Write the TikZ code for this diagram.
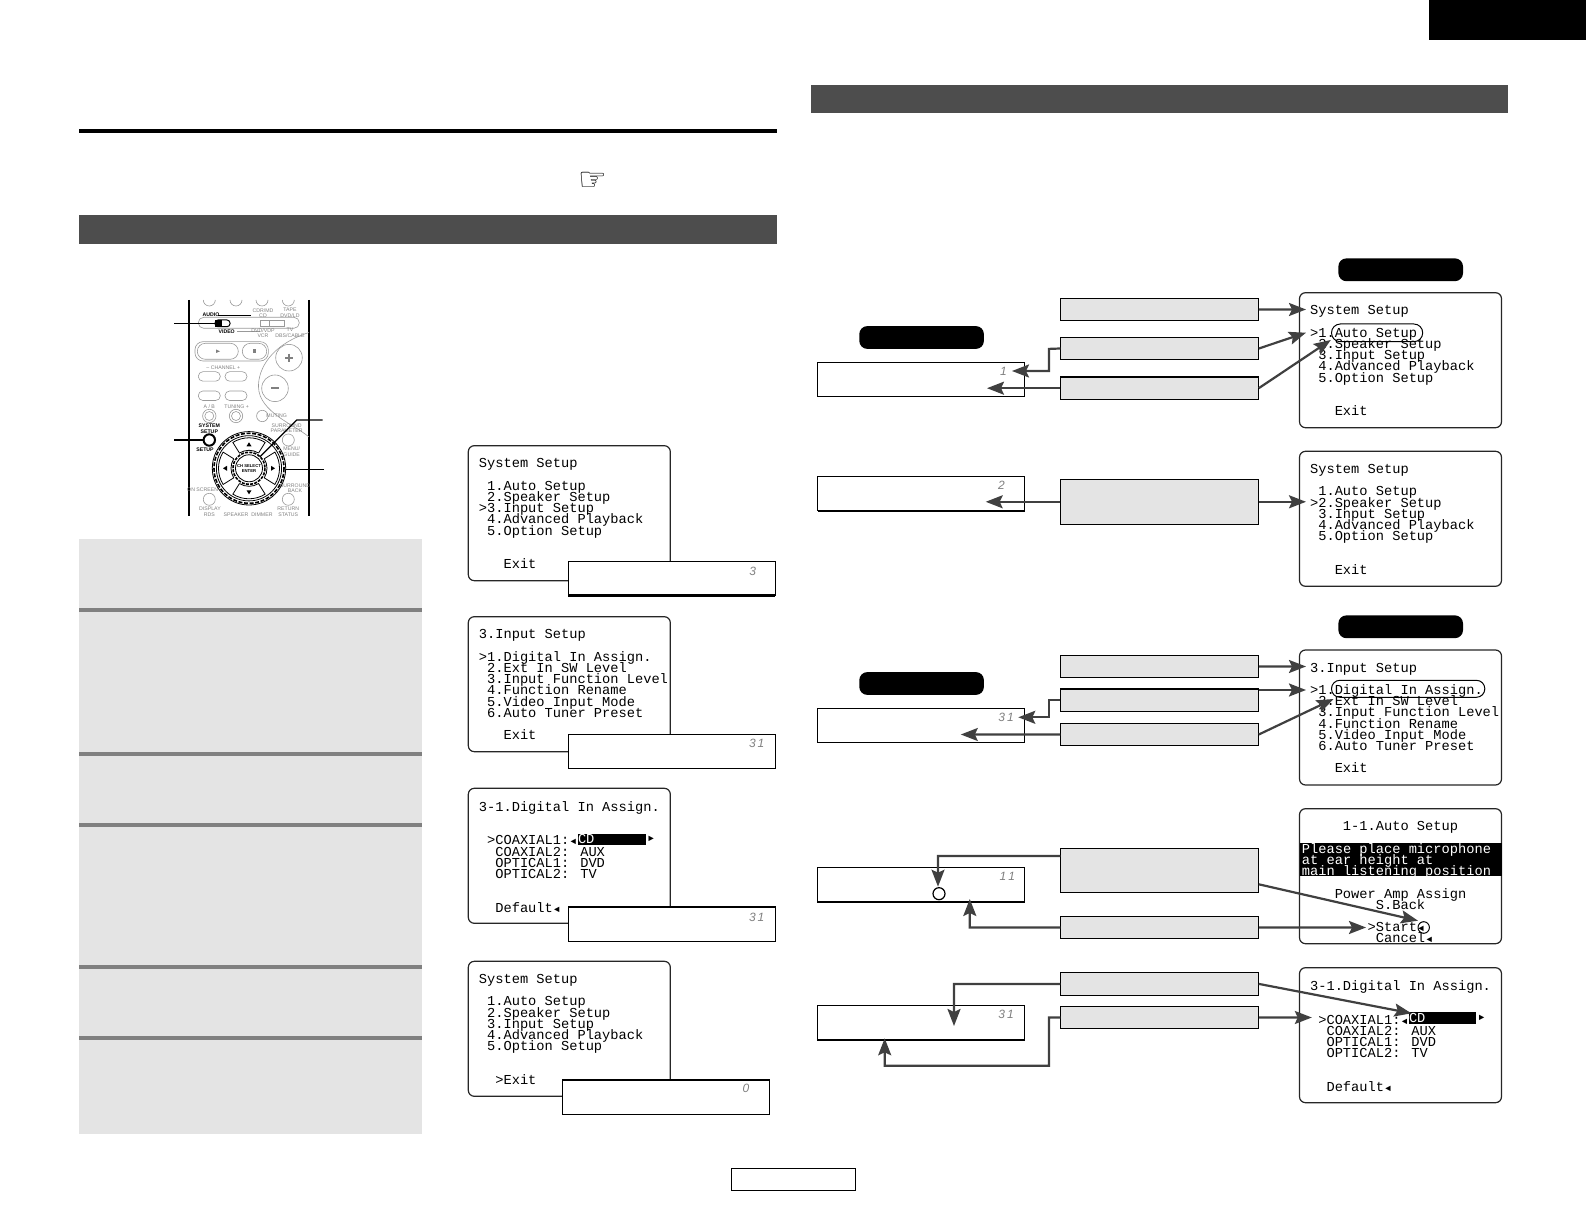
\documentclass[tikz,border=0pt]{standalone}
\usepackage{fontspec}
\setsansfont{Liberation Sans}
\newfontfamily\osdface{Liberation Mono}
\newfontfamily\handface{DejaVu Sans}
\usetikzlibrary{calc,arrows.meta}
\definecolor{barGray}{HTML}{4D4D4D}
\definecolor{panelGray}{HTML}{E4E4E4}
\definecolor{sepGray}{HTML}{808080}
\definecolor{arrowGray}{HTML}{404040}
\def\osdfont{\osdface\fontsize{6.85}{5.6}\selectfont\lineskiplimit=-6pt\relax}
\def\remfont{\sffamily\fontsize{2.6}{2.8}\selectfont\lineskiplimit=-2pt\relax}
\def\gap{\phantom{0}}
\def\trileft{\makebox[4.11pt]{\fontsize{4.6}{5.6}\selectfont◄}}
\def\triright{\makebox[4.11pt]{\fontsize{4.6}{5.6}\selectfont►}}
\tikzset{
	screenbox/.style={draw=black!85,fill=white,line width=0.6pt,rounded corners=3pt,minimum width=101pt,minimum height=67.5pt,inner sep=0pt,outer sep=0pt,anchor=north west},
	osdtext/.style={font=\osdfont,align=left,inner sep=0pt,outer sep=0pt,anchor=north west},
	osdword/.style={font=\osdfont,inner sep=0pt,outer sep=0pt,anchor=west},
	keybox/.style={draw=black,fill=panelGray,line width=0.6pt,minimum width=99.2pt,inner sep=0pt,outer sep=0pt,anchor=north west},
	lcdbox/.style={draw=black,fill=white,line width=0.6pt,minimum width=103.5pt,minimum height=17.3pt,inner sep=0pt,outer sep=0pt,anchor=north west},
	lcddigit/.style={font=\sffamily\itshape\fontsize{6}{6}\selectfont,text=black!50,inner sep=0pt},
	modepill/.style={fill=black,rounded corners=4pt,minimum width=62.3pt,minimum height=11.4pt,inner sep=0pt,anchor=north west},
	flow/.style={draw=arrowGray,line width=1.1pt,-{Stealth[length=8.5pt,width=6.5pt,inset=1.5pt]}},
	remline/.style={draw=black!40,line width=0.3pt},
	remtext/.style={font=\remfont,text=black!50,inner sep=0pt,align=center},
	remdark/.style={font=\remfont\bfseries,text=black,inner sep=0pt,align=center}
}
\def\sysmenu#1#2#3#4{System Setup\\\gap\\#11.Auto Setup\\#22.Speaker Setup\\#33.Input Setup\\\gap4.Advanced Playback\\\gap5.Option Setup\\\gap\\\gap\\#4Exit}
\def\osdscreen#1(#2,#3)#4{\node[screenbox] (scr#1) at (#2,#3) {};
		\node[osdtext] (txt#1) at ($(#2,#3)+(10.6,13)$) {#4};}
\begin{document}
\begin{tikzpicture}[x=0.5pt,y=-0.5pt]
		\useasboundingbox (0,0) rectangle (1586,1224);
		%%%%% PAGE FURNITURE %%%%%
		\fill[black] (1429,0) rectangle (1586,40);
		\fill[black] (79,129) rectangle (777,133);
		\fill[barGray] (79,215) rectangle (777,244);
		\fill[barGray] (811,85) rectangle (1508,113);
		\node[font=\handface\fontsize{16}{16}\selectfont,inner sep=0pt] (hand) at (593,181) {☞};
		\draw[line width=0.6pt] (731.3,1168.3) rectangle (855.7,1190.7);
		
		%%%%% LEFT PANEL %%%%%
		\fill[panelGray] (79,539) rectangle (422,1133.7);
		\foreach \y in {608,752,823,965,1036}
			\fill[sepGray] (79,\y) rectangle (422,\y+4);
		
		%%%%% REMOTE %%%%%
		\draw[line width=0.7pt] (189,300) -- (189,516);
		\draw[line width=0.7pt] (309,300) -- (309,516);
		\foreach \x in {209.3,236,262,288.3}
			\draw[remline] (\x-6,300) arc (180:0:6);
		\draw[remline,rounded corners=2.7pt] (198.3,317.3) rectangle (299.3,328.3);
		\draw[remline] (260.7,320) rectangle (284,326.7);
		\draw[remline] (260.7,320) rectangle (269,326.7);
		\draw[line width=0.5pt,rounded corners=1.5pt] (215,320) rectangle (230,326.7);
		\fill (215,320) rectangle (222,326.7);
		\node[remdark] (audio) at (211,315) {AUDIO};
		\draw[line width=0.4pt] (218.3,315) -- (251,315);
		\node[remdark] (video) at (226.7,331.7) {VIDEO};
		\draw[remline] (237,331.7) -- (260,331.7);
		\node[remtext] (cdr) at (263,313) {CDR/MD\\CD};
		\node[remtext] (tape) at (290,313) {TAPE\\DVD/LD};
		\node[remtext] (vdp) at (263,333) {DVD/VDP\\VCR};
		\node[remtext] (tv) at (290,333) {TV\\DBS/CABLE};
		\draw[remline,rounded corners=4pt] (195,341.7) rectangle (268.3,361);
		\draw[remline,rounded corners=4pt] (197.3,343.3) rectangle (238.3,359.3);
		\draw[remline,rounded corners=4pt] (242.3,343.3) rectangle (266.7,359.3);
		\fill[black!50] (216,349.5) -- (220,351.3) -- (216,353) -- cycle;
		\fill[black!50] (252.5,349.5) rectangle (256,353);
		\draw[remline] (309,332.5) .. controls (270,345) and (258,370) .. (258.5,387) .. controls (259,412) and (295,425) .. (309,437);
		\draw[remline] (289,357.7) circle (13.3);
		\draw[remline] (275,388.3) circle (13.3);
		\draw[black!50,line width=1pt] (285,357.7) -- (293,357.7) (289,353.7) -- (289,361.7);
		\draw[black!50,line width=1pt] (271,388.3) -- (279,388.3);
		\node[remtext] (chan) at (223.3,367.3) {-- CHANNEL +};
		\foreach \y in {371.7,391}
			\foreach \x in {198.3,225}
				\draw[remline,rounded corners=2.3pt] (\x,\y) rectangle (\x+22,\y+9.5);
		\node[remtext] (ab) at (209.3,406.7) {A / B};
		\node[remtext] (tuning) at (236.7,406.7) {TUNING +};
		\foreach \x in {209.3,236}{
			\draw[remline] (\x,416) circle (6.7);
			\draw[remline] (\x,416) circle (4.5);
		}
		\draw[remline] (262.3,416) circle (5.7);
		\node[remtext] (muting) at (276.7,416) {MUTING};
		\node[remdark] (sysup) at (209.3,429) {SYSTEM\\SETUP};
		\node[remdark] (setup) at (205,449.3) {SETUP};
		\draw[line width=1pt,fill=white] (209.3,440) circle (5.7);
		\draw[remline] (288.3,440) circle (6);
		\node[remtext] (surr) at (286.7,428) {SURROUND\\PARAMETER};
		\node[remtext] (menu) at (291.7,451.7) {MENU/\\GUIDE};
		\draw[remline] (209.3,499.3) circle (6);
		\draw[remline] (288.3,499.3) circle (6);
		\node[remtext] (onscr) at (202.7,490) {ON SCREEN};
		\node[remtext] (disp) at (210,508.3) {DISPLAY};
		\node[remtext] (sback) at (295,488.3) {SURROUND\\BACK};
		\node[remtext] (ret) at (288.3,508.3) {RETURN};
		\node[remtext] (rowa) at (209.3,515) {RDS};
		\node[remtext] (rowb) at (236,515) {SPEAKER};
		\node[remtext] (rowc) at (262,515) {DIMMER};
		\node[remtext] (rowd) at (288.3,515) {STATUS};
		% wheel
		\draw[line width=0.4pt] (249,468.3) circle (36.7);
		\draw[line width=0.8pt,dashed,dash pattern=on 2pt off 0.8pt] (249,468.3) circle (35);
		\draw[line width=0.4pt] (249,468.3) circle (32.6);
		\foreach \a in {0,90,180,270}{
			\draw[line width=0.4pt,shift={(249,468.3)},rotate=\a] (32:18) -- (32:30.5) arc (32:-32:30.5) -- (-32:18) arc (-32:32:18);
			\fill[shift={(249,468.3)},rotate=\a] (22,-2.5) -- (26,0) -- (22,2.5) -- cycle;
		}
		\draw[line width=0.8pt,dashed,dash pattern=on 1.5pt off 0.6pt] (249,468.3) circle (16);
		\draw[line width=0.4pt] (249,468.3) circle (13.5);
		\node[remdark,font=\remfont\bfseries\fontsize{2.1}{2.4}\selectfont] (enter) at (249,468.3) {CH SELECT\\ENTER};
		\draw[line width=0.4pt] (174.3,323) -- (215,323);
		\draw[line width=0.8pt] (174,440) -- (203,440);
		\draw[line width=0.6pt] (322.7,420) -- (296.7,420) -- (260,456.7);
		\draw[line width=0.4pt] (324,469) -- (285.7,469);
		
		%%%%% LEFT SCREENS %%%%%
		\osdscreen{One}(468.3,445.7){\sysmenu{\gap}{\gap}{>}{\gap\gap\gap}}
		\node[lcdbox] (lcdOne) at (568.3,561.3) {};
		\draw[line width=1.4pt] (lcdOne.south west) -- (lcdOne.south east);
		\node[lcddigit] (digOne) at (752.7,571.7) {3};
		\osdscreen{Two}(468.3,616.7){3.Input Setup\\\gap\\>1.Digital In Assign.\\\gap2.Ext In SW Level\\\gap3.Input Function Level\\\gap4.Function Rename\\\gap5.Video Input Mode\\\gap6.Auto Tuner Preset\\\gap\\\gap\gap\gap Exit}
		\node[lcdbox] (lcdTwo) at (568.3,734.3) {};
		\node[lcddigit] (digTwo) at (756.7,743) {3\,1};
		\osdscreen{Three}(468.3,788.3){3-1.Digital In Assign.\\\gap\\\gap\\\gap>COAXIAL1:\trileft\\\gap\gap COAXIAL2: AUX\\\gap\gap OPTICAL1: DVD\\\gap\gap OPTICAL2: TV\\\gap\\\gap\\\gap\gap Default\trileft}
		\fill[black] (578,834) rectangle (645.7,844.7);
		\node[osdword,text=white] (cdThree) at (578,839.3) {CD};
		\node[osdword] (nextThree) at (647,839.3) {\triright};
		\node[lcdbox] (lcdThree) at (568.3,907) {};
		\node[lcddigit] (digThree) at (756.7,917.7) {3\,1};
		\osdscreen{Four}(468.3,961.3){\sysmenu{\gap}{\gap}{\gap}{\gap\gap>}}
		\node[lcdbox] (lcdFour) at (562.7,1080) {};
		\draw[line width=1.2pt] (lcdFour.north west) -- (lcdFour.north east);
		\node[lcddigit] (digFour) at (746,1088.3) {0};
		
		%%%%% RIGHT SCREENS %%%%%
		\osdscreen{A}(1299.5,292.7){\sysmenu{>}{\gap}{\gap}{\gap\gap\gap}}
		\osdscreen{B}(1299.5,451.3){\sysmenu{\gap}{>}{\gap}{\gap\gap\gap}}
		\osdscreen{C}(1299.5,650){3.Input Setup\\\gap\\>1.Digital In Assign.\\\gap2.Ext In SW Level\\\gap3.Input Function Level\\\gap4.Function Rename\\\gap5.Video Input Mode\\\gap6.Auto Tuner Preset\\\gap\\\gap\gap\gap Exit}
		\osdscreen{D}(1299.5,808.7){\gap\gap\gap\gap 1-1.Auto Setup\\\gap\\\gap\\\gap\\\gap\\\gap\\\gap\gap\gap Power Amp Assign\\\gap\gap\gap\gap\gap\gap\gap\gap S.Back\\\gap\\\gap\gap\gap\gap\gap\gap\gap>Start\trileft\\\gap\gap\gap\gap\gap\gap\gap\gap Cancel\trileft}
		\fill[black] (1299.5,843) rectangle (1501.5,876);
		\node[osdtext,text=white] (txtBand) at ($(txtD.north west)+(-8.2,21.7)$) {Please place microphone\\at ear height at\\main listening position};
		\osdscreen{E}(1299.5,967.7){3-1.Digital In Assign.\\\gap\\\gap\\\gap>COAXIAL1:\trileft\\\gap\gap COAXIAL2: AUX\\\gap\gap OPTICAL1: DVD\\\gap\gap OPTICAL2: TV\\\gap\\\gap\\\gap\gap Default\trileft}
		\fill[black] (1409,1012.3) rectangle (1476,1024);
		\node[osdword,text=white] (cdE) at (1409,1018.2) {CD};
		\node[osdword] (nextE) at (1477.5,1018.2) {\triright};
		
		%%%%% FLOW BOXES %%%%%
		\node[keybox,minimum height=11.2pt] (keyA) at (1060.4,298.3) {};
		\node[keybox,minimum height=11.2pt] (keyB) at (1060.4,337.3) {};
		\node[keybox,minimum height=11.2pt] (keyC) at (1060.4,377) {};
		\node[keybox,minimum height=22.5pt] (keyD) at (1060.4,479.3) {};
		\node[keybox,minimum height=11.2pt] (keyE) at (1060.4,655.3) {};
		\node[keybox,minimum height=11.2pt] (keyF) at (1060.4,689) {};
		\node[keybox,minimum height=11.2pt] (keyG) at (1060.4,723.3) {};
		\node[keybox,minimum height=22.2pt] (keyH) at (1060.4,848.3) {};
		\node[keybox,minimum height=11.2pt] (keyI) at (1060.4,916.3) {};
		\node[keybox,minimum height=11.2pt] (keyJ) at (1060.4,972.7) {};
		\node[keybox,minimum height=11.2pt] (keyK) at (1060.4,1006.3) {};
		\node[lcdbox] (lcdA) at (817.7,362.3) {};
		\node[lcddigit] (digA) at (1003.4,371.7) {1};
		\node[lcdbox] (lcdB) at (817.7,476.3) {};
		\draw[line width=1.2pt] (lcdB.south west) -- (lcdB.south east);
		\node[lcddigit] (digB) at (1001.5,485) {2};
		\node[lcdbox] (lcdC) at (817.7,708.3) {};
		\node[lcddigit] (digC) at (1006,717) {3\,1};
		\node[lcdbox] (lcdD) at (817.7,867.3) {};
		\node[lcddigit] (digD) at (1007.4,876) {1\,1};
		\draw[line width=0.6pt] (939,893.7) circle (6);
		\node[lcdbox] (lcdE) at (817.7,1005.3) {};
		\draw[line width=1.2pt] (lcdE.south west) -- (lcdE.south east);
		\node[lcddigit] (digE) at (1006,1014) {3\,1};
		\node[modepill] (pillA) at (1338,258) {};
		\node[modepill] (pillB) at (858.9,325.7) {};
		\node[modepill] (pillC) at (1338,615) {};
		\node[modepill] (pillD) at (858.9,671.7) {};
		
		%%%%% HIGHLIGHTS %%%%%
		\draw[line width=0.5pt,rounded corners=4.4pt] (1331.5,324) rectangle (1422.7,341.7);
		\draw[line width=0.5pt,rounded corners=4.2pt] (1331.5,680.3) rectangle (1484.8,697.3);
		\draw[line width=0.5pt] (1423.7,927.5) ellipse (5.7 and 5.8);
		
		%%%%% CONNECTORS %%%%%
		\coordinate (tipA) at (1306,309.5);
		\coordinate (tipB) at (1306,332.7);
		\coordinate (tipC) at (1330.8,340);
		\coordinate (tipD) at (1306,501.8);
		\coordinate (tipE) at (1306,666.5);
		\coordinate (tipF) at (1306,690);
		\coordinate (tipG) at (1333.5,699);
		\coordinate (tipH) at (1418,920.7);
		\coordinate (tipI) at (1366,927.5);
		\coordinate (tipJ) at (1411.4,1013.3);
		\coordinate (tipK) at (1311.8,1017.5);
		\draw[flow] (keyA.east) -- (tipA);
		\draw[flow] (keyB.east) -- (tipB);
		\draw[flow] (keyC.east) -- (tipC);
		\draw[flow] (keyD.east) -- (tipD);
		\draw[flow] (keyE.east) -- (tipE);
		\draw[flow] ($(keyF.north east)+(0,1)$) -- (tipF);
		\draw[flow] (keyG.east) -- (tipG);
		\draw[flow] ($(keyH.north east)+(0,36)$) -- (tipH);
		\draw[flow] (keyI.east) -- (tipI);
		\draw[flow] (keyJ.east) -- (tipJ);
		\draw[flow] (keyK.east) -- (tipK);
		\draw[flow] (keyB.west) -- (1049,348.9) -- (1049,371) -- (1012,371);
		\draw[flow] (keyC.west) -- (987,388.2);
		\draw[flow] (keyD.west) -- (985.7,501.8);
		\draw[flow] (keyF.west) -- (1049,700.2) -- (1049,717.3) -- (1018.3,717.3);
		\draw[flow] (keyG.west) -- (960.8,734.5);
		\draw[flow] ($(keyH.north west)+(0,7.7)$) -- (938,856) -- (938,886.7);
		\draw[flow] (keyI.west) -- (969.8,927.5) -- (969.8,899);
		\draw[flow] (keyJ.west) -- (954,983.9) -- (954,1026);
		\draw[flow] (keyK.west) -- (1049,1017.5) -- (1049,1065.7) -- (884.7,1065.7) -- (884.7,1038.3);
		%%%%% END %%%%%
	\end{tikzpicture}
\end{document}
